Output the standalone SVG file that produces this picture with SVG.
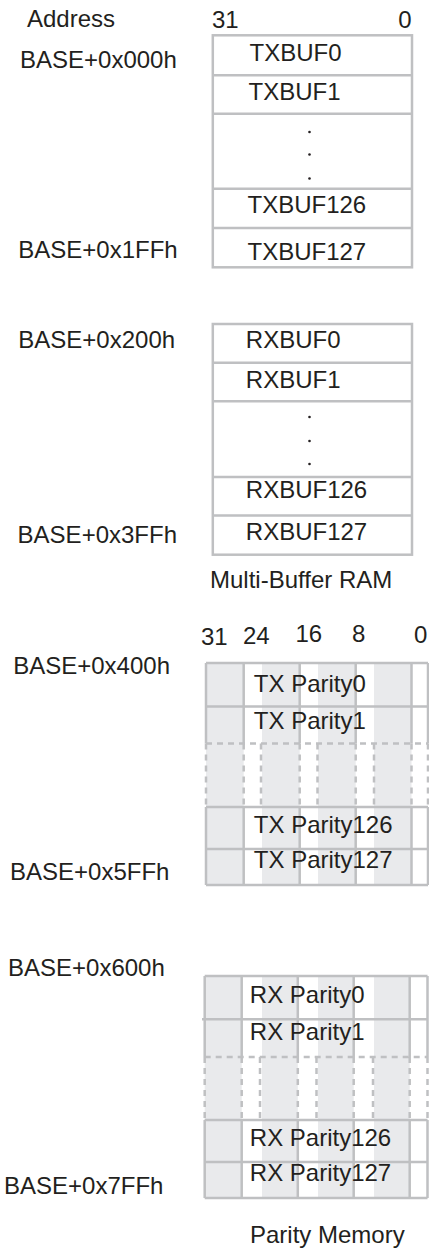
<svg xmlns="http://www.w3.org/2000/svg" width="429" height="1248" viewBox="0 0 429 1248">
<style>
text{font-family:"Liberation Sans",Arial,sans-serif;font-size:24px;fill:#231f20}
.ln{stroke:#bfc0c2;stroke-width:2.5;fill:none}
.dl{stroke:#bfc0c2;stroke-width:2.5;fill:none;stroke-dasharray:6 5}
.gf{fill:#e9eaec}
.dot{fill:#231f20}
</style>
<rect width="429" height="1248" fill="#fff"/>
<g id="labels">
<text x="27" y="27">Address</text>
<text x="20" y="68">BASE+0x000h</text>
<text x="18.3" y="258">BASE+0x1FFh</text>
<text x="18.3" y="348">BASE+0x200h</text>
<text x="17.6" y="543">BASE+0x3FFh</text>
<text x="13.2" y="674">BASE+0x400h</text>
<text x="10" y="880">BASE+0x5FFh</text>
<text x="8" y="976">BASE+0x600h</text>
<text x="4" y="1194">BASE+0x7FFh</text>
<text x="212" y="28">31</text>
<text x="411.5" y="28" text-anchor="end">0</text>
<text x="210" y="588">Multi-Buffer RAM</text>
<text x="201" y="645">31</text>
<text x="243" y="643.5">24</text>
<text x="295.5" y="642">16</text>
<text x="352" y="642">8</text>
<text x="414" y="643">0</text>
<text x="250" y="1243">Parity Memory</text>
</g>
<g id="txbuf">
<rect class="ln" x="212.8" y="35.3" width="199.2" height="232"/>
<path class="ln" d="M212.8 75.3H412M212.8 113.7H412M212.8 188.7H412M212.8 228H412"/>
<text x="249.5" y="61">TXBUF0</text>
<text x="248.5" y="100">TXBUF1</text>
<circle class="dot" cx="309.5" cy="132" r="1.3"/>
<circle class="dot" cx="309.5" cy="154.5" r="1.3"/>
<circle class="dot" cx="309.5" cy="178.5" r="1.3"/>
<text x="247.5" y="213">TXBUF126</text>
<text x="247.5" y="260">TXBUF127</text>
</g>
<g id="rxbuf">
<rect class="ln" x="212.8" y="324" width="199.2" height="230.7"/>
<path class="ln" d="M212.8 362.8H412M212.8 401.3H412M212.8 477H412M212.8 515.5H412"/>
<text x="245.8" y="348">RXBUF0</text>
<text x="245.8" y="388">RXBUF1</text>
<circle class="dot" cx="309.5" cy="417" r="1.3"/>
<circle class="dot" cx="309.5" cy="441" r="1.3"/>
<circle class="dot" cx="309.5" cy="464" r="1.3"/>
<text x="245.8" y="498">RXBUF126</text>
<text x="245.8" y="540">RXBUF127</text>
</g>
<g id="txparity">
<path class="gf" d="M206 663H243.7V885H206ZM262 663H299.7V885H262ZM318 663H355.7V885H318ZM374 663H411.5V885H374Z"/>
<path class="ln" d="M206 663H428M206 706.5H428M206 807H428M206 849H428M206 885H428"/>
<path class="ln" d="M206 663V743.5M243.7 663V743.5M299.7 663V743.5M355.7 663V743.5M411.5 663V743.5M428 663V743.5"/>
<path class="ln" d="M206 807V885M243.7 807V885M299.7 807V885M355.7 807V885M411.5 807V885M428 807V885"/>
<path class="dl" d="M206 743.5H428M206 743.5V807M243.7 743.5V807M261 743.5V807M299.7 743.5V807M317.5 743.5V807M355.7 743.5V807M374 743.5V807M411.5 743.5V807M428 743.5V807"/>
<text x="253.8" y="692.3">TX Parity0</text>
<text x="253.8" y="729">TX Parity1</text>
<text x="253.8" y="833.3">TX Parity126</text>
<text x="253.8" y="868.3">TX Parity127</text>
</g>
<g id="rxparity">
<path class="gf" d="M204.7 976H241.7V1198H204.7ZM262 976H297.8V1198H262ZM318 976H353.7V1198H318ZM374 976H409.7V1198H374Z"/>
<path class="ln" d="M204.7 976H427.5M202 1019.3H427.5M204.7 1120H427.5M204.7 1162H427.5M204.7 1198H427.5"/>
<path class="ln" d="M204.7 976V1057M241.7 976V1057M297.8 976V1057M353.7 976V1057M409.7 976V1057M427.5 976V1057"/>
<path class="ln" d="M204.7 1120V1198M241.7 1120V1198M297.8 1120V1198M353.7 1120V1198M409.7 1120V1198M427.5 1120V1198"/>
<path class="dl" d="M204.7 1057H427.5M204.7 1057V1120M241.7 1057V1120M260 1057V1120M297.8 1057V1120M316.5 1057V1120M353.7 1057V1120M373 1057V1120M409.7 1057V1120M427.5 1057V1120"/>
<text x="249.8" y="1003.3">RX Parity0</text>
<text x="249.8" y="1040">RX Parity1</text>
<text x="249.8" y="1146">RX Parity126</text>
<text x="249.8" y="1181">RX Parity127</text>
</g>
</svg>
